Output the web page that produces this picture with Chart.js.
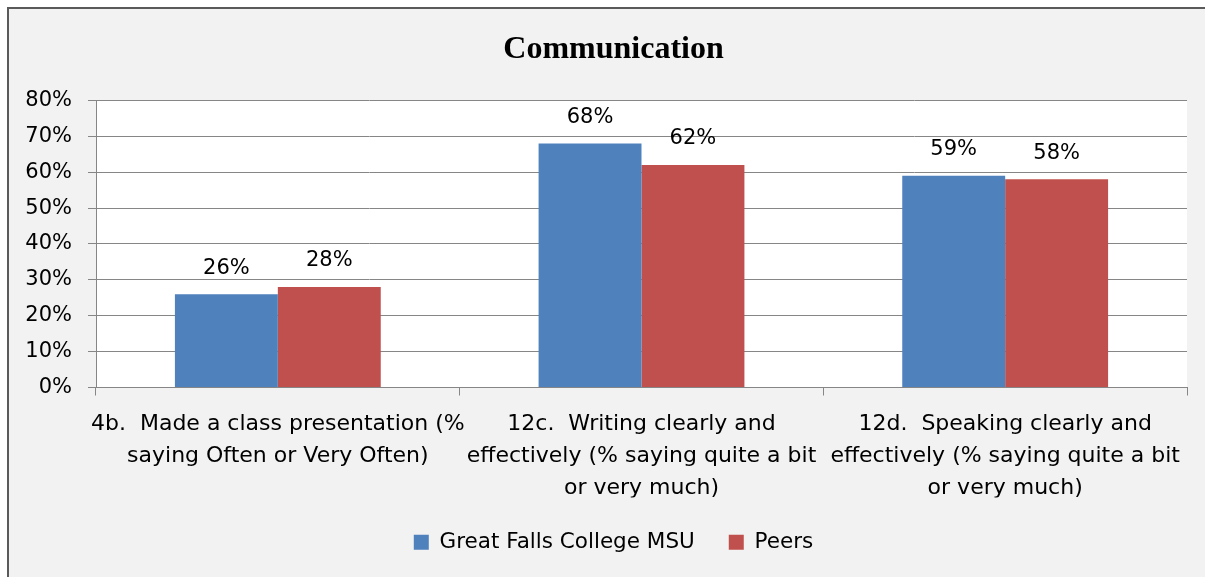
<!DOCTYPE html>
<html>
<head>
<meta charset="utf-8">
<script src="https://cdn.jsdelivr.net/npm/chart.js@4.4.1/dist/chart.umd.min.js"></script>
<style>
  html, body { margin: 0; padding: 0; background: #ffffff; overflow: hidden; }
  #commChart { position: absolute; left: 0; top: 0; }
</style>
</head>
<body>
<canvas id="commChart" width="1205" height="577"></canvas>
<script>
// дані графіка
const categories = [
  ["4b.  Made a class presentation (%", "saying Often or Very Often)"],
  ["12c.  Writing clearly and", "effectively (% saying quite a bit", "or very much)"],
  ["12d.  Speaking clearly and", "effectively (% saying quite a bit", "or very much)"]
];
const gfcValues = [26, 68, 59];
const peerValues = [28, 62, 58];
const yTicks = [0, 10, 20, 30, 40, 50, 60, 70, 80];

const FONT = "'DejaVu Sans', sans-serif";
const GRID = "#868686";

// фон, рамка, біла область графіка
const framePlugin = {
  id: "frame",
  afterLayout(chart) {
    // заголовок і легенда в оригіналі центровані по всій рамці, тож зсуваємо їх трохи вправо
    [chart.titleBlock, chart.legend].forEach(b => { b.left += 15; b.right += 15; });
    chart.legend.adjustHitBoxes();
  },
  beforeDraw(chart) {
    const { ctx, chartArea: a } = chart;
    ctx.save();
    ctx.fillStyle = "#f2f2f2";
    ctx.fillRect(8, 9, chart.width, chart.height);
    ctx.strokeStyle = "#5a5a5a";
    ctx.lineWidth = 2;
    ctx.beginPath();
    ctx.moveTo(8, chart.height + 5);
    ctx.lineTo(8, 8);
    ctx.lineTo(chart.width + 5, 8);
    ctx.stroke();
    ctx.fillStyle = "#ffffff";
    ctx.fillRect(a.left, a.top, a.right - a.left, a.bottom - a.top);
    ctx.restore();
  }
};

// підписи значень над стовпцями
const valueLabels = {
  id: "valueLabels",
  afterDatasetsDraw(chart) {
    const { ctx } = chart;
    ctx.save();
    ctx.font = "21px " + FONT;
    ctx.fillStyle = "#000";
    ctx.textAlign = "center";
    ctx.textBaseline = "middle";
    chart.data.datasets.forEach((ds, i) => {
      chart.getDatasetMeta(i).data.forEach((bar, j) => {
        ctx.fillText(ds.data[j] + "%", bar.x, bar.y - 26);
      });
    });
    ctx.restore();
  }
};

new Chart(document.getElementById("commChart"), {
  type: "bar",
  data: {
    labels: categories,
    datasets: [
      { label: "Great Falls College MSU", data: gfcValues, backgroundColor: "#4f81bd" },
      { label: "Peers", data: peerValues, backgroundColor: "#c0504d" }
    ]
  },
  options: {
    responsive: false,
    animation: false,
    devicePixelRatio: 1,
    categoryPercentage: 0.566,
    barPercentage: 1,
    layout: { padding: { left: 10, right: 18, top: 0, bottom: 14 } },
    plugins: {
      title: {
        display: true,
        text: "Communication",
        color: "#000",
        font: { family: "'Liberation Serif', 'Times New Roman', serif", size: 32, weight: "bold" },
        padding: { top: 31, bottom: 31 }
      },
      legend: {
        position: "bottom",
        labels: {
          color: "#000",
          font: { family: FONT, size: 21.5 },
          boxWidth: 15,
          boxHeight: 15,
          padding: 34
        }
      },
      tooltip: { enabled: false }
    },
    scales: {
      x: {
        clip: false,
        grid: { display: true, drawOnChartArea: false, drawTicks: true, tickLength: 8, color: GRID },
        border: { color: GRID },
        ticks: { color: "#000", font: { family: FONT, size: 22, lineHeight: 1.45 }, padding: 13, maxRotation: 0, autoSkip: false },
        afterFit(scale) { scale.height = 110; }
      },
      y: {
        min: 0,
        max: 80,
        afterBuildTicks(scale) { scale.ticks = yTicks.map(v => ({ value: v })); },
        grid: { color: GRID, tickLength: 8 },
        border: { color: GRID },
        ticks: { color: "#000", font: { family: FONT, size: 21 }, padding: 16, callback: v => v + "%" },
        afterFit(scale) { scale.width = 86; }
      }
    }
  },
  plugins: [framePlugin, valueLabels]
});
</script>
</body>
</html>
